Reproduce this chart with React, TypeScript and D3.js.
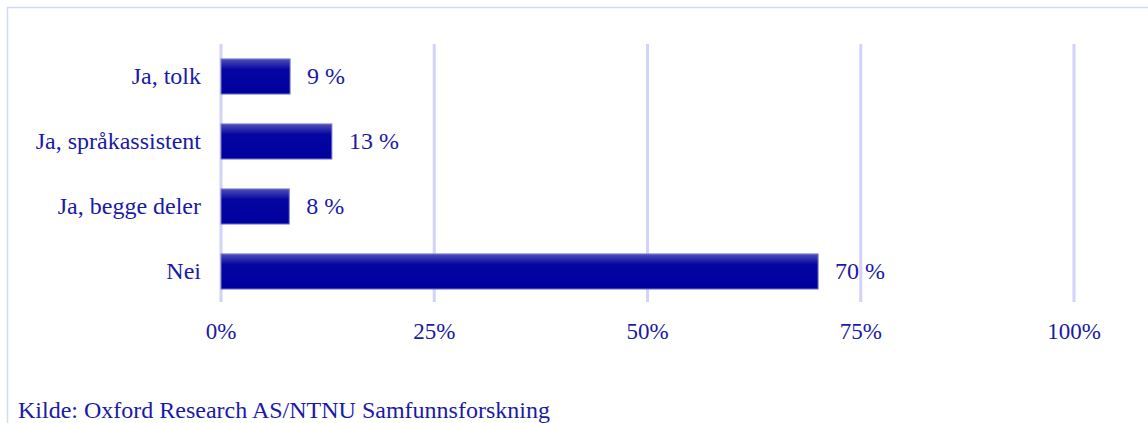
import React from "react";
import * as d3 from "d3";

const categories = ["Ja, tolk", "Ja, språkassistent", "Ja, begge deler", "Nei"];
const values = [8.1, 13, 8, 70];
const valueLabels = ["9 %", "13 %", "8 %", "70 %"];
const ticks = [0, 25, 50, 75, 100];
const source = "Kilde: Oxford Research AS/NTNU Samfunnsforskning";

const W = 1148;
const H = 423;
const textColor = "#1a1aa6";
const font = "'Liberation Serif', 'Times New Roman', serif";

export default function App() {
  const x = d3.scaleLinear().domain([0, 100]).range([221, 1074]);
  const y = d3
    .scaleBand<string>()
    .domain(categories)
    .range([44, 304])
    .paddingInner(0.46)
    .paddingOuter(0.23);

  return (
    <svg
      width={W}
      height={H}
      style={{ position: "absolute", left: 0, top: 0, background: "#fff" }}
      fontFamily={font}
    >
      <defs>
        <linearGradient id="barGrad" x1="0" y1="0" x2="0" y2="1">
          <stop offset="0%" stopColor="#5050b8" />
          <stop offset="30%" stopColor="#0505a2" />
          <stop offset="100%" stopColor="#00009e" />
        </linearGradient>
      </defs>
      <path d={`M7.5,${H} V7.5 H${W}`} fill="none" stroke="#cddcf3" strokeWidth={1.5} />
      {ticks.map((t) => (
        <line
          key={t}
          x1={x(t)}
          x2={x(t)}
          y1={44}
          y2={302}
          stroke="#d2d2fb"
          strokeWidth={3}
        />
      ))}
      {categories.map((c, i) => (
        <g key={c}>
          <rect
            x={x(0)}
            y={y(c)!}
            width={x(values[i]) - x(0)}
            height={y.bandwidth()}
            fill="url(#barGrad)"
            stroke="#7a7acc"
            strokeWidth={1}
          />
          <text
            x={201}
            y={y(c)! + y.bandwidth() / 2}
            dy="0.33em"
            textAnchor="end"
            fontSize={24}
            fill={textColor}
          >
            {c}
          </text>
          <text
            x={x(values[i]) + 17}
            y={y(c)! + y.bandwidth() / 2}
            dy="0.33em"
            fontSize={24}
            fill={textColor}
          >
            {valueLabels[i]}
          </text>
        </g>
      ))}
      {ticks.map((t) => (
        <text
          key={t}
          x={x(t)}
          y={339}
          textAnchor="middle"
          fontSize={23}
          fill={textColor}
        >
          {t}%
        </text>
      ))}
      <text x={18} y={418} fontSize={24} fill={textColor}>
        {source}
      </text>
    </svg>
  );
}
